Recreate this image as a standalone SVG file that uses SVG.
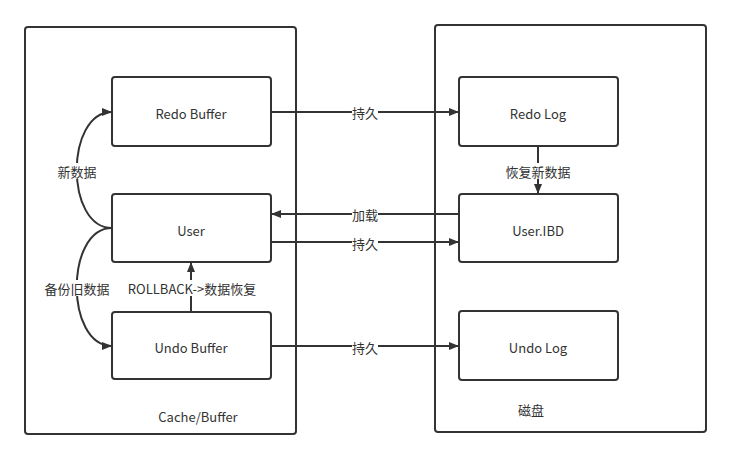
<svg xmlns="http://www.w3.org/2000/svg" width="731" height="459" viewBox="0 0 731 459">
<style>
.box{fill:#fff;stroke:#333;stroke-width:2}
.ln{fill:none;stroke:#333;stroke-width:2}
text{font-family:"Noto Sans CJK SC","Noto Sans",sans-serif;font-size:13px;fill:#333;text-anchor:middle;dominant-baseline:central}
.bg{fill:#fff}
</style>
<defs>
<marker id="ah" viewBox="0 0 10 8" refX="10" refY="4" markerWidth="10" markerHeight="8" markerUnits="userSpaceOnUse" orient="auto">
<path d="M0,0 L10,4 L0,8 Z" fill="#333"/>
</marker>
</defs>
<rect width="731" height="459" fill="#fff"/>
<g id="cache">
<rect class="box" x="25" y="27" width="271" height="407" rx="3"/>
<text x="198" y="416">Cache/Buffer</text>
</g>
<g id="disk">
<rect class="box" x="435" y="25" width="271" height="407" rx="3"/>
<text x="531" y="409">磁盘</text>
</g>
<g id="redo-buffer"><rect class="box" x="112" y="77" width="159" height="69" rx="3"/><text x="191" y="113">Redo Buffer</text></g>
<g id="user"><rect class="box" x="112" y="194" width="159" height="68" rx="3"/><text x="191" y="230">User</text></g>
<g id="undo-buffer"><rect class="box" x="112" y="312" width="159" height="67" rx="3"/><text x="191" y="347">Undo Buffer</text></g>
<g id="redo-log"><rect class="box" x="459" y="77" width="159" height="69" rx="3"/><text x="538" y="113">Redo Log</text></g>
<g id="user-ibd"><rect class="box" x="459" y="194" width="159" height="68" rx="3"/><text x="538" y="230">User.IBD</text></g>
<g id="undo-log"><rect class="box" x="459" y="311" width="159" height="69" rx="3"/><text x="538" y="347">Undo Log</text></g>
<g id="connectors">
<path class="ln" d="M271,112 H459" marker-end="url(#ah)"/>
<rect class="bg" x="352" y="104" width="26" height="16"/><text x="365" y="112">持久</text>
<path class="ln" d="M459,214 H271" marker-end="url(#ah)"/>
<rect class="bg" x="352" y="206" width="26" height="16"/><text x="365" y="214">加载</text>
<path class="ln" d="M271,242 H459" marker-end="url(#ah)"/>
<rect class="bg" x="352" y="234" width="26" height="16"/><text x="365" y="243">持久</text>
<path class="ln" d="M271,346 H459" marker-end="url(#ah)"/>
<rect class="bg" x="352" y="338" width="26" height="16"/><text x="365" y="347">持久</text>
<path class="ln" d="M538,146 V194" marker-end="url(#ah)"/>
<rect class="bg" x="505" y="163" width="66" height="16"/><text x="538" y="171">恢复新数据</text>
<path class="ln" d="M191,312 V262" marker-end="url(#ah)"/>
<rect class="bg" x="124" y="280" width="136" height="16"/><text x="192" y="288">ROLLBACK-&gt;数据恢复</text>
<path class="ln" d="M112,228 C65,228 65,112 112,112" marker-end="url(#ah)"/>
<rect class="bg" x="57" y="163" width="40" height="16"/><text x="77" y="171">新数据</text>
<path class="ln" d="M112,228 C65,228 65,346 112,346" marker-end="url(#ah)"/>
<rect class="bg" x="44" y="280" width="66" height="16"/><text x="77" y="288">备份旧数据</text>
</g>
</svg>
